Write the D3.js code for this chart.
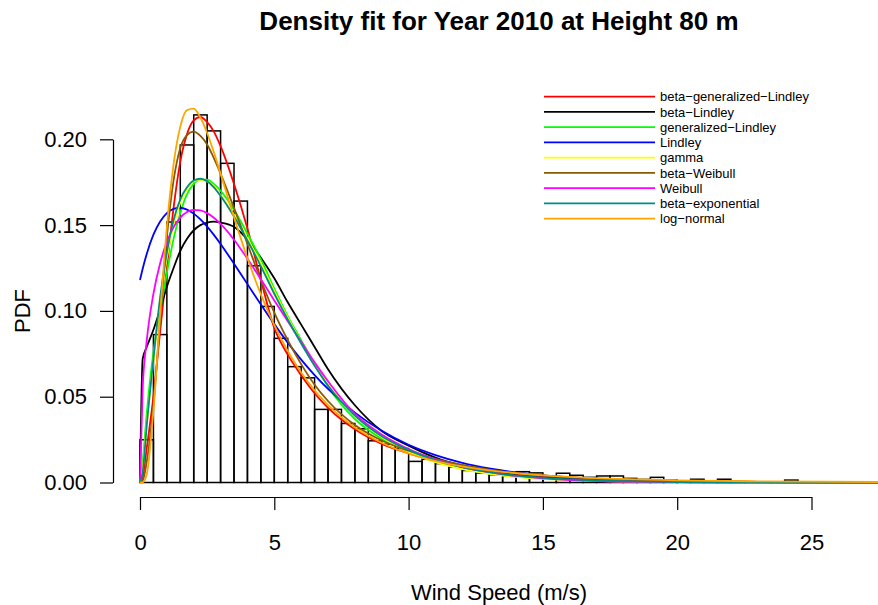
<!DOCTYPE html>
<html>
<head>
<meta charset="utf-8">
<script src="https://cdn.jsdelivr.net/npm/d3@7"></script>
<style>
  html, body { margin: 0; padding: 0; background: #ffffff; }
  svg { display: block; font-family: "Liberation Sans", Arial, Helvetica, sans-serif; }
</style>
</head>
<body>
<svg id="chart" width="878" height="605"></svg>
<script>
// ---------------- data ----------------
const chartTitle = "Density fit for Year 2010 at Height 80 m";
const xLabel = "Wind Speed (m/s)";
const yLabel = "PDF";
const xTicks = [0, 5, 10, 15, 20, 25];
const yTicks = [0, 0.05, 0.10, 0.15, 0.20];

// histogram: bins of width 0.5 starting at 0
const binWidth = 0.5;
const histDensity = [
  0.0249, 0.0862, 0.1518, 0.1967, 0.2142, 0.2049, 0.1860, 0.1640, 0.1263, 0.1026,
  0.0840, 0.0675, 0.0610, 0.0426, 0.0426, 0.0344, 0.0313, 0.0243, 0.0224, 0.0198,
  0.0123, 0.0135, 0.0110, 0.0090, 0.0070, 0.0055, 0.0045, 0.0040, 0.0063, 0.0056,
  0.0025, 0.0054, 0.0042, 0.0030, 0.0038, 0.0038, 0.0024, 0.0018, 0.0030, 0.0014,
  0.0010, 0.0019, 0.0006, 0.0019, 0.0005, 0.0004, 0.0003, 0.0002, 0.0014, 0.0003,
  0.0002, 0.0001, 0.0001
];

// fitted density curves, sampled at these wind speeds
const curveX = [0, 0.1, 0.25, 0.5, 0.75, 1, 1.25, 1.5, 1.75, 2, 2.25, 2.5, 2.75, 3, 3.5, 4, 4.5, 5, 5.5, 6, 6.5, 7, 8, 9, 10, 11, 12, 13, 14, 15, 17, 20, 23, 27.6];

const betaGeneralizedLindley = [0, 0.003, 0.020, 0.050, 0.088, 0.125, 0.160, 0.187, 0.203, 0.211, 0.213, 0.210, 0.2045, 0.196, 0.174, 0.148, 0.118, 0.090, 0.0745, 0.0625, 0.052, 0.0435, 0.031, 0.0225, 0.0170, 0.0125, 0.0090, 0.0066, 0.0049, 0.0037, 0.0021, 0.0009, 0.0004, 0.0001];
const betaLindley = [0, 0.072, 0.079, 0.089, 0.101, 0.114, 0.125, 0.135, 0.142, 0.147, 0.150, 0.1515, 0.152, 0.1515, 0.149, 0.1415, 0.131, 0.119, 0.105, 0.092, 0.079, 0.066, 0.045, 0.030, 0.0215, 0.0145, 0.0098, 0.0065, 0.0043, 0.0028, 0.0012, 0.0003, 0.0001, 0];
const generalizedLindley = [0, 0.012, 0.040, 0.076, 0.100, 0.122, 0.142, 0.157, 0.168, 0.174, 0.1765, 0.1765, 0.174, 0.170, 0.159, 0.145, 0.130, 0.113, 0.097, 0.083, 0.069, 0.056, 0.037, 0.0255, 0.018, 0.012, 0.008, 0.0052, 0.0034, 0.0022, 0.0009, 0.0002, 0.00005, 0];
const lindley = [0.1180, 0.1246, 0.1332, 0.1444, 0.1521, 0.1570, 0.1595, 0.1601, 0.1590, 0.1567, 0.1533, 0.1491, 0.1443, 0.1390, 0.1275, 0.1156, 0.1037, 0.0923, 0.0815, 0.0716, 0.0626, 0.0545, 0.0407, 0.0301, 0.0220, 0.0160, 0.0115, 0.00825, 0.00589, 0.00418, 0.00208, 0.00071, 0.00024, 0.00004];
const gammaFit = [0, 0.008, 0.034, 0.071, 0.105, 0.131, 0.150, 0.163, 0.171, 0.1755, 0.1765, 0.1755, 0.1725, 0.1675, 0.156, 0.1425, 0.1275, 0.1115, 0.096, 0.0815, 0.0685, 0.057, 0.039, 0.0265, 0.0178, 0.0118, 0.0078, 0.0051, 0.0033, 0.0021, 0.0009, 0.0002, 0.00005, 0];
const betaWeibull = [0, 0.001, 0.012, 0.045, 0.095, 0.143, 0.176, 0.195, 0.2025, 0.2045, 0.202, 0.197, 0.189, 0.180, 0.160, 0.139, 0.118, 0.099, 0.083, 0.069, 0.057, 0.0475, 0.0335, 0.0245, 0.0185, 0.0138, 0.0102, 0.0075, 0.0056, 0.0042, 0.0023, 0.0010, 0.0004, 0.0001];
const weibull = [0, 0.055, 0.0825, 0.110, 0.1278, 0.1402, 0.1488, 0.1544, 0.1576, 0.1589, 0.1586, 0.1570, 0.1543, 0.1507, 0.1415, 0.1304, 0.1184, 0.1061, 0.094, 0.082, 0.070, 0.059, 0.040, 0.028, 0.0195, 0.0135, 0.009, 0.006, 0.0038, 0.0024, 0.0008, 0.0002, 0.00003, 0];
const betaExponential = [0, 0.006, 0.033, 0.072, 0.108, 0.134, 0.153, 0.165, 0.172, 0.176, 0.177, 0.1755, 0.172, 0.167, 0.155, 0.141, 0.126, 0.110, 0.095, 0.081, 0.068, 0.0565, 0.039, 0.027, 0.019, 0.013, 0.009, 0.006, 0.004, 0.0027, 0.0012, 0.0003, 0.0001, 0];
const logNormal = [0, 0.0001, 0.0048, 0.0417, 0.0979, 0.1489, 0.1855, 0.2074, 0.2170, 0.2179, 0.2127, 0.2037, 0.1924, 0.1800, 0.1545, 0.1307, 0.1096, 0.0917, 0.0766, 0.0641, 0.0537, 0.0451, 0.0321, 0.0232, 0.0169, 0.0125, 0.00935, 0.00707, 0.0054, 0.00416, 0.00254, 0.00128, 0.00068, 0.00029];

const seriesNames = ["beta\u2212generalized\u2212Lindley", "beta\u2212Lindley", "generalized\u2212Lindley", "Lindley", "gamma", "beta\u2212Weibull", "Weibull", "beta\u2212exponential", "log\u2212normal"];
const seriesValues = [betaGeneralizedLindley, betaLindley, generalizedLindley, lindley, gammaFit, betaWeibull, weibull, betaExponential, logNormal];
const seriesColors = ["#FF0000", "#000000", "#00FF00", "#0000FF", "#FFFF00", "#8B5A00", "#FF00FF", "#008B8B", "#FFA500"];

// ---------------- drawing ----------------
const svg = d3.select("#chart");
svg.append("rect").attr("width", 878).attr("height", 605).attr("fill", "#ffffff");

const plot = { left: 113, right: 885, top: 100, bottom: 497 };
const x = d3.scaleLinear().domain([0, 25]).range([140, 811.5]);
const y = d3.scaleLinear().domain([0, 0.20]).range([482.5, 139.3]);

svg.append("clipPath").attr("id", "plotclip")
  .append("rect")
  .attr("x", plot.left).attr("y", plot.top)
  .attr("width", plot.right - plot.left).attr("height", plot.bottom - plot.top);

const g = svg.append("g").attr("clip-path", "url(#plotclip)");

// histogram
g.selectAll("rect.bar")
  .data(histDensity)
  .join("rect")
  .attr("class", "bar")
  .attr("x", (d, i) => x(i * binWidth))
  .attr("width", (d, i) => x((i + 1) * binWidth) - x(i * binWidth))
  .attr("y", d => y(d))
  .attr("height", d => y(0) - y(d))
  .attr("fill", "none")
  .attr("stroke", "#000")
  .attr("stroke-width", 1.5);

// curves
const line = d3.line()
  .x(d => x(d[0]))
  .y(d => y(d[1]))
  .curve(d3.curveMonotoneX);

seriesValues.forEach((vals, k) => {
  g.append("path")
    .datum(curveX.map((xv, i) => [xv, vals[i]]))
    .attr("d", line)
    .attr("fill", "none")
    .attr("stroke", seriesColors[k])
    .attr("stroke-width", 1.8);
});

// axes
const fontSize = 22;
const xAxis = d3.axisBottom(x).tickValues(xTicks).tickSize(13).tickSizeOuter(0).tickPadding(24).tickFormat(d3.format("d"));
const xg = svg.append("g").attr("transform", `translate(0,${plot.bottom})`).call(xAxis);
xg.selectAll("text").attr("font-size", fontSize).attr("fill", "#000").attr("font-family", "Liberation Sans, Arial, sans-serif");
xg.selectAll("path, line").attr("stroke", "#000").attr("stroke-width", 1.2);

const yAxis = d3.axisLeft(y).tickValues(yTicks).tickSize(13).tickSizeOuter(0).tickPadding(13).tickFormat(d3.format(".2f"));
const yg = svg.append("g").attr("transform", `translate(${plot.left},0)`).call(yAxis);
yg.selectAll("text").attr("font-size", fontSize).attr("fill", "#000").attr("font-family", "Liberation Sans, Arial, sans-serif");
yg.selectAll("path, line").attr("stroke", "#000").attr("stroke-width", 1.2);

// titles
svg.append("text")
  .attr("x", 499).attr("y", 30)
  .attr("text-anchor", "middle")
  .attr("font-size", 26).attr("font-weight", "bold")
  .text(chartTitle);

svg.append("text")
  .attr("x", 499).attr("y", 600)
  .attr("text-anchor", "middle")
  .attr("font-size", fontSize)
  .text(xLabel);

svg.append("text")
  .attr("transform", "translate(30,311) rotate(-90)")
  .attr("text-anchor", "middle")
  .attr("font-size", fontSize)
  .text(yLabel);

// legend
const legend = svg.append("g");
const legendTop = 96.7, legendStep = 15.25;
seriesNames.forEach((name, k) => {
  const ly = legendTop + k * legendStep;
  legend.append("line")
    .attr("x1", 544).attr("x2", 655)
    .attr("y1", ly).attr("y2", ly)
    .attr("stroke", seriesColors[k]).attr("stroke-width", 1.8);
  legend.append("text")
    .attr("x", 660).attr("y", ly).attr("dy", "0.35em")
    .attr("font-size", 13)
    .text(name);
});
</script>
</body>
</html>
